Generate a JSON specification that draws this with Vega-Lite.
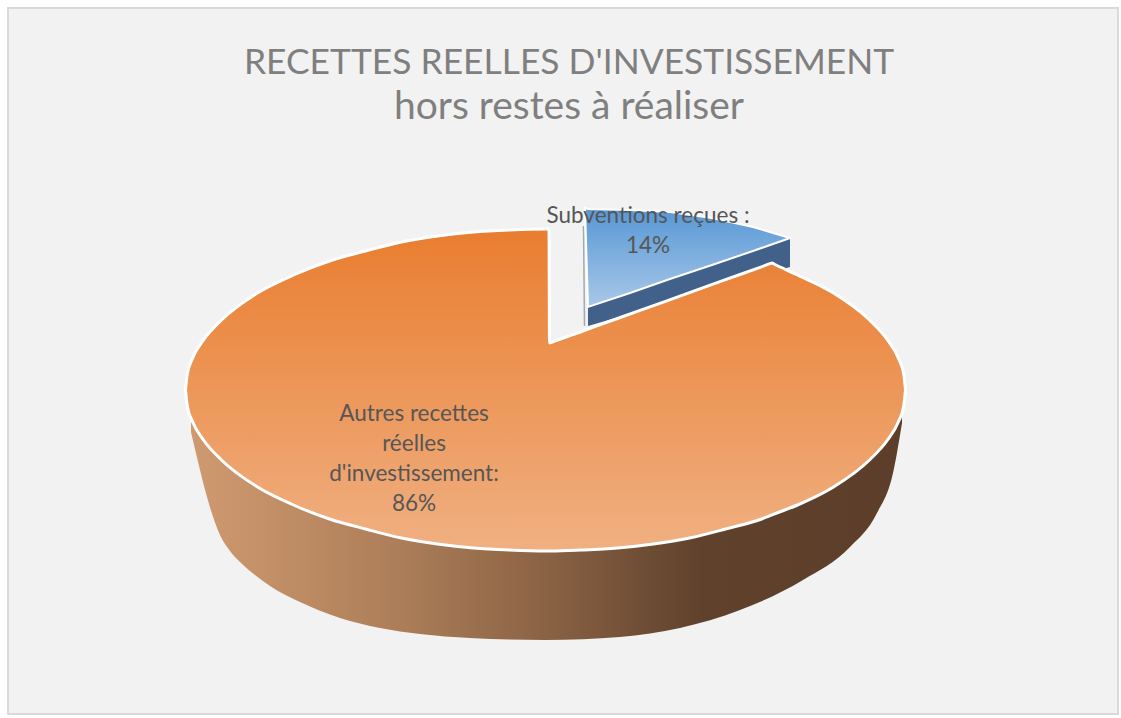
{
"$schema":"https://vega.github.io/schema/vega-lite/v6.json",
"width":1110,"height":706,
"autosize":"none",
"padding":{"left":8,"top":8,"right":3,"bottom":4},
"background":"white",
"view":{"fill":"#f2f2f2","stroke":"#d9d9d9","strokeWidth":2},
"title":{"text":"RECETTES REELLES D'INVESTISSEMENT","subtitle":"hors restes à réaliser","font":"Lato","fontSize":35.4,"fontWeight":"normal","color":"#7f7f7f","subtitleFont":"Lato","subtitleFontSize":39,"subtitleColor":"#7f7f7f","subtitlePadding":7,"anchor":"middle","offset":-119,"dx":6},
"datasets":{
"shares":[
{"category":"Subventions reçues","share":14,"label":"Subventions reçues :|14%","cx":648,"cy":216},
{"category":"Autres recettes réelles d'investissement","share":86,"label":"Autres recettes|réelles|d'investissement:|86%","cx":414,"cy":414}
],
"outline":[
{"part":"body","x":191,"y":400,"y2":432},{"part":"body","x":200,"y":400,"y2":470},{"part":"body","x":207,"y":400,"y2":497},{"part":"body","x":220,"y":400,"y2":535},{"part":"body","x":230,"y":400,"y2":551},{"part":"body","x":240,"y":400,"y2":562},{"part":"body","x":255,"y":400,"y2":575},{"part":"body","x":270,"y":400,"y2":586},{"part":"body","x":300,"y":400,"y2":602},{"part":"body","x":340,"y":400,"y2":618},{"part":"body","x":380,"y":400,"y2":628},{"part":"body","x":420,"y":400,"y2":634},{"part":"body","x":470,"y":400,"y2":638},{"part":"body","x":545,"y":400,"y2":640},{"part":"body","x":620,"y":400,"y2":637},{"part":"body","x":680,"y":400,"y2":628},{"part":"body","x":740,"y":400,"y2":610},{"part":"body","x":803,"y":400,"y2":580},{"part":"body","x":850,"y":400,"y2":547},{"part":"body","x":877,"y":400,"y2":513},{"part":"body","x":893,"y":400,"y2":473},{"part":"body","x":902,"y":400,"y2":423},
{"part":"blueside","x":588,"y":307,"y2":326},{"part":"blueside","x":790,"y":238,"y2":267},
{"part":"blue","x":585,"y":208,"y2":208},{"part":"blue","x":588,"y":209,"y2":307},{"part":"blue","x":630,"y":210,"y2":293},{"part":"blue","x":670,"y":212,"y2":279},{"part":"blue","x":712,"y":218,"y2":265},{"part":"blue","x":753,"y":227,"y2":251},{"part":"blue","x":790,"y":238,"y2":238},
{"part":"edge","x":583.5,"y":226},{"part":"edge","x":584.5,"y":326},
{"part":"orange","x":185.5,"y":390,"y2":390},{"part":"orange","x":187.3,"y":374,"y2":406},{"part":"orange","x":192.7,"y":358,"y2":422},{"part":"orange","x":203.5,"y":340,"y2":440},{"part":"orange","x":221.5,"y":320,"y2":460},{"part":"orange","x":257.5,"y":293,"y2":487},{"part":"orange","x":293.5,"y":275,"y2":505},{"part":"orange","x":329.5,"y":261,"y2":519},{"part":"orange","x":365.5,"y":251,"y2":529},{"part":"orange","x":401.5,"y":242,"y2":538},{"part":"orange","x":437.5,"y":236,"y2":544},{"part":"orange","x":473.5,"y":232,"y2":548},{"part":"orange","x":509.5,"y":230,"y2":550},{"part":"orange","x":545.5,"y":229,"y2":551},{"part":"orange","x":549,"y":229,"y2":551},{"part":"orange","x":549.5,"y":343,"y2":551},{"part":"orange","x":551,"y":342.5,"y2":551},{"part":"orange","x":581.5,"y":331.5,"y2":550},{"part":"orange","x":617.5,"y":318.5,"y2":548},{"part":"orange","x":653.5,"y":305.6,"y2":544},{"part":"orange","x":689.5,"y":292.7,"y2":538},{"part":"orange","x":725.5,"y":279.7,"y2":529},{"part":"orange","x":761.5,"y":266.8,"y2":519},{"part":"orange","x":770,"y":263.7,"y2":515.7},{"part":"orange","x":772,"y":263,"y2":514.9},{"part":"orange","x":774,"y":264,"y2":514.1},{"part":"orange","x":797.5,"y":275,"y2":505},{"part":"orange","x":833.5,"y":293,"y2":487},{"part":"orange","x":869.5,"y":320,"y2":460},{"part":"orange","x":887.5,"y":340,"y2":440},{"part":"orange","x":898.3,"y":358,"y2":422},{"part":"orange","x":903.7,"y":374,"y2":406},{"part":"orange","x":905.5,"y":390,"y2":390}
]},
"layer":[
{"data":{"name":"outline"},"transform":[{"filter":"datum.part==='body'"}],
 "mark":{"type":"area","interpolate":"monotone","color":{"gradient":"linear","x1":0,"y1":0,"x2":1,"y2":0,"stops":[{"offset":0,"color":"#d09a70"},{"offset":0.3,"color":"#ab7d58"},{"offset":0.5,"color":"#8a6244"},{"offset":0.72,"color":"#5f412c"},{"offset":1,"color":"#5c3e2a"}]}},
 "encoding":{"x":{"field":"x","type":"quantitative","scale":{"domain":[8,1118],"nice":false,"zero":false},"axis":null},"y":{"field":"y","type":"quantitative","scale":{"domain":[714,8],"nice":false,"zero":false},"axis":null},"y2":{"field":"y2"}}},
{"data":{"name":"outline"},"transform":[{"filter":"datum.part==='edge'"}],
 "mark":{"type":"line","color":"#a3a9b0","strokeWidth":1.5},
 "encoding":{"x":{"field":"x","type":"quantitative"},"y":{"field":"y","type":"quantitative"}}},
{"data":{"name":"outline"},"transform":[{"filter":"datum.part==='blueside'"}],
 "mark":{"type":"area","color":"#41608a"},
 "encoding":{"x":{"field":"x","type":"quantitative"},"y":{"field":"y","type":"quantitative"},"y2":{"field":"y2"}}},
{"data":{"name":"outline"},"transform":[{"filter":"datum.part==='blue'"}],
 "mark":{"type":"area","stroke":"#ffffff","strokeWidth":2,"color":{"gradient":"linear","x1":0,"y1":0,"x2":0,"y2":1,"stops":[{"offset":0,"color":"#5697d5"},{"offset":1,"color":"#a9c8e8"}]}},
 "encoding":{"x":{"field":"x","type":"quantitative"},"y":{"field":"y","type":"quantitative"},"y2":{"field":"y2"}}},
{"data":{"name":"outline"},"transform":[{"filter":"datum.part==='orange'"}],
 "mark":{"type":"area","interpolate":"monotone","stroke":"#ffffff","strokeWidth":3,"color":{"gradient":"linear","x1":0,"y1":0,"x2":0,"y2":1,"stops":[{"offset":0,"color":"#e97d2f"},{"offset":1,"color":"#f0b082"}]}},
 "encoding":{"x":{"field":"x","type":"quantitative"},"y":{"field":"y","type":"quantitative"},"y2":{"field":"y2"}}},
{"data":{"name":"shares"},
 "mark":{"type":"text","font":"Lato","fontSize":22.5,"color":"#565656","lineBreak":"|","lineHeight":30,"align":"center","baseline":"middle"},
 "encoding":{"x":{"field":"cx","type":"quantitative"},"y":{"field":"cy","type":"quantitative"},"text":{"field":"label","type":"nominal"}}}
]
}
